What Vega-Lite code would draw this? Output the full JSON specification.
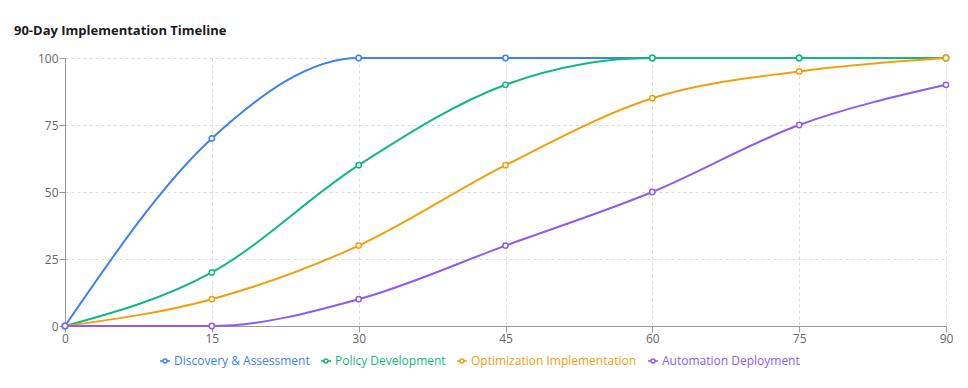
{
  "$schema": "https://vega.github.io/schema/vega-lite/v6.json",
  "autosize": {"type": "none"},
  "width": 881,
  "height": 268,
  "padding": {"left": 65, "top": 58, "right": 22, "bottom": 62},
  "background": "white",
  "title": {
    "text": "90-Day Implementation Timeline",
    "anchor": "start",
    "frame": "group",
    "font": "Open Sans",
    "fontSize": 13,
    "fontWeight": "bold",
    "color": "#1a1a1a",
    "dx": -51,
    "offset": 14
  },
  "data": {
    "values": [
      {"day": 0, "series": "Discovery & Assessment", "value": 0},
      {"day": 15, "series": "Discovery & Assessment", "value": 70},
      {"day": 30, "series": "Discovery & Assessment", "value": 100},
      {"day": 45, "series": "Discovery & Assessment", "value": 100},
      {"day": 60, "series": "Discovery & Assessment", "value": 100},
      {"day": 75, "series": "Discovery & Assessment", "value": 100},
      {"day": 90, "series": "Discovery & Assessment", "value": 100},
      {"day": 0, "series": "Policy Development", "value": 0},
      {"day": 15, "series": "Policy Development", "value": 20},
      {"day": 30, "series": "Policy Development", "value": 60},
      {"day": 45, "series": "Policy Development", "value": 90},
      {"day": 60, "series": "Policy Development", "value": 100},
      {"day": 75, "series": "Policy Development", "value": 100},
      {"day": 90, "series": "Policy Development", "value": 100},
      {"day": 0, "series": "Optimization Implementation", "value": 0},
      {"day": 15, "series": "Optimization Implementation", "value": 10},
      {"day": 30, "series": "Optimization Implementation", "value": 30},
      {"day": 45, "series": "Optimization Implementation", "value": 60},
      {"day": 60, "series": "Optimization Implementation", "value": 85},
      {"day": 75, "series": "Optimization Implementation", "value": 95},
      {"day": 90, "series": "Optimization Implementation", "value": 100},
      {"day": 0, "series": "Automation Deployment", "value": 0},
      {"day": 15, "series": "Automation Deployment", "value": 0},
      {"day": 30, "series": "Automation Deployment", "value": 10},
      {"day": 45, "series": "Automation Deployment", "value": 30},
      {"day": 60, "series": "Automation Deployment", "value": 50},
      {"day": 75, "series": "Automation Deployment", "value": 75},
      {"day": 90, "series": "Automation Deployment", "value": 90}
    ]
  },
  "encoding": {
    "x": {
      "field": "day",
      "type": "quantitative",
      "scale": {"domain": [0, 90], "nice": false, "zero": false},
      "axis": {
        "values": [0, 15, 30, 45, 60, 75, 90],
        "title": null,
        "grid": true,
        "gridDash": [3, 3],
        "gridColor": "#dddddd",
        "domainColor": "#999999",
        "tickColor": "#999999",
        "tickSize": 6,
        "labelColor": "#666666",
        "labelFont": "Open Sans",
        "labelFontSize": 12,
        "labelPadding": 1,
        "labelFlush": false
      }
    },
    "y": {
      "field": "value",
      "type": "quantitative",
      "scale": {"domain": [0, 100], "nice": false},
      "axis": {
        "values": [0, 25, 50, 75, 100],
        "title": null,
        "grid": true,
        "gridDash": [3, 3],
        "gridColor": "#dddddd",
        "domainColor": "#999999",
        "tickColor": "#999999",
        "tickSize": 6,
        "labelColor": "#666666",
        "labelFont": "Open Sans",
        "labelFontSize": 12,
        "labelPadding": 1
      }
    },
    "color": {
      "field": "series",
      "type": "nominal",
      "scale": {
        "domain": ["Discovery & Assessment", "Policy Development", "Optimization Implementation", "Automation Deployment"],
        "range": ["#3b82f6", "#10b981", "#f59e0b", "#8b5cf6"]
      },
      "legend": {
        "orient": "none",
        "legendX": 94,
        "legendY": 297,
        "direction": "horizontal",
        "title": null,
        "labelFont": "Open Sans",
        "labelFontSize": 12,
        "labelLimit": 400,
        "labelColor": {"expr": "scale('color', datum.value)"},
        "symbolType": "M-1,0H-0.4M0.4,0H1M0.4,0A0.4,0.4 0 1,1 -0.4,0A0.4,0.4 0 1,1 0.4,0",
        "symbolSize": 100,
        "symbolStrokeWidth": 1.5,
        "symbolFillColor": "white",
        "symbolOpacity": 1,
        "columnPadding": 8,
        "labelOffset": 3
      }
    }
  },
  "layer": [
    {
      "mark": {"type": "line", "interpolate": "monotone", "strokeWidth": 2}
    },
    {
      "mark": {"type": "point", "shape": "circle", "filled": false, "fill": "white", "fillOpacity": 1, "size": 28, "strokeWidth": 1.5, "opacity": 1}
    }
  ],
  "config": {
    "view": {"stroke": null}
  }
}
